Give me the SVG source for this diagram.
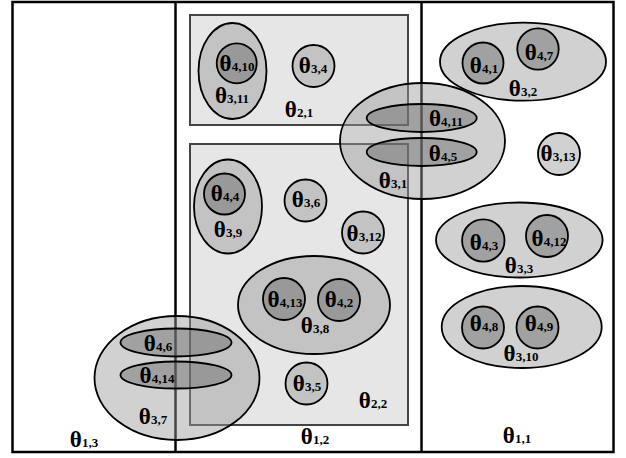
<svg xmlns="http://www.w3.org/2000/svg" width="626" height="458" viewBox="0 0 626 458">
<style>
.frame{fill:none;stroke:#000;stroke-width:2.5}
.div{stroke:#000;stroke-width:2.5}
.g2{fill:#e6e6e6;stroke:#444;stroke-width:2}
.g3{fill:#999;fill-opacity:0.45;stroke:#000;stroke-width:1.8}
.g4{fill:#666;fill-opacity:0.45;stroke:#000;stroke-width:1.8}
text{font-family:"Liberation Serif","Times New Roman",serif;font-weight:bold;font-size:23px;text-anchor:middle;fill:#000}
.s{font-size:13px}
</style>
<rect class="frame" x="12.5" y="2" width="601" height="450"/>
<g id="theta1_3"><text x="84" y="447">θ<tspan class="s">1,3</tspan></text></g>
<g id="theta1_2"><line class="div" x1="175.5" y1="2" x2="175.5" y2="452"/><text x="315" y="444">θ<tspan class="s">1,2</tspan></text></g>
<g id="theta1_1"><line class="div" x1="421.5" y1="2" x2="421.5" y2="452"/><text x="517" y="443">θ<tspan class="s">1,1</tspan></text></g>

<g id="theta2_1"><rect class="g2" x="190" y="15" width="218" height="110"/><text x="299" y="117">θ<tspan class="s">2,1</tspan></text></g>
<g id="theta2_2"><rect class="g2" x="190" y="144" width="218" height="281"/><text x="373" y="408">θ<tspan class="s">2,2</tspan></text></g>

<g id="theta3_11"><ellipse class="g3" cx="232.5" cy="71" rx="34" ry="48"/><text x="232" y="103">θ<tspan class="s">3,11</tspan></text></g>
<g id="theta4_10"><circle class="g4" cx="236.7" cy="63.3" r="20"/><text x="237" y="71">θ<tspan class="s">4,10</tspan></text></g>
<g id="theta3_4"><circle class="g3" cx="313.5" cy="66" r="21"/><text x="313" y="73">θ<tspan class="s">3,4</tspan></text></g>

<g id="theta3_9"><ellipse class="g3" cx="228" cy="206.5" rx="34" ry="47"/><text x="228" y="237">θ<tspan class="s">3,9</tspan></text></g>
<g id="theta4_4"><circle class="g4" cx="224.5" cy="194" r="20.5"/><text x="225" y="201">θ<tspan class="s">4,4</tspan></text></g>
<g id="theta3_6"><circle class="g3" cx="305.5" cy="200.5" r="21"/><text x="306" y="207">θ<tspan class="s">3,6</tspan></text></g>
<g id="theta3_12"><circle class="g3" cx="363" cy="232.5" r="21"/><text x="364" y="241">θ<tspan class="s">3,12</tspan></text></g>

<g id="theta3_8"><ellipse class="g3" cx="314" cy="305" rx="76" ry="49"/><text x="315" y="333">θ<tspan class="s">3,8</tspan></text></g>
<g id="theta4_13"><circle class="g4" cx="284" cy="299" r="21"/><text x="285" y="307">θ<tspan class="s">4,13</tspan></text></g>
<g id="theta4_2"><circle class="g4" cx="339" cy="300" r="21"/><text x="339" y="307">θ<tspan class="s">4,2</tspan></text></g>
<g id="theta3_5"><circle class="g3" cx="306.5" cy="383.5" r="21"/><text x="307" y="391">θ<tspan class="s">3,5</tspan></text></g>

<g id="theta3_1"><ellipse class="g3" cx="422.5" cy="141" rx="82.5" ry="58"/><text x="393" y="188">θ<tspan class="s">3,1</tspan></text></g>
<g id="theta4_11"><ellipse class="g4" cx="421.7" cy="118" rx="55" ry="14"/><text x="446" y="126">θ<tspan class="s">4,11</tspan></text></g>
<g id="theta4_5"><ellipse class="g4" cx="421.7" cy="152" rx="55" ry="14"/><text x="443" y="161">θ<tspan class="s">4,5</tspan></text></g>

<g id="theta3_7"><ellipse class="g3" cx="177" cy="378" rx="82.5" ry="62"/><text x="153" y="424">θ<tspan class="s">3,7</tspan></text></g>
<g id="theta4_6"><ellipse class="g4" cx="176" cy="342.5" rx="55.5" ry="14"/><text x="158" y="351">θ<tspan class="s">4,6</tspan></text></g>
<g id="theta4_14"><ellipse class="g4" cx="176" cy="375" rx="55.5" ry="13.5"/><text x="157" y="383">θ<tspan class="s">4,14</tspan></text></g>

<g id="theta3_2"><ellipse class="g3" cx="523" cy="61.7" rx="83" ry="39"/><text x="523" y="96">θ<tspan class="s">3,2</tspan></text></g>
<g id="theta4_1"><circle class="g4" cx="483" cy="63" r="20.5"/><text x="484" y="73">θ<tspan class="s">4,1</tspan></text></g>
<g id="theta4_7"><circle class="g4" cx="538" cy="49" r="20.7"/><text x="539" y="60">θ<tspan class="s">4,7</tspan></text></g>
<g id="theta3_13"><circle class="g3" cx="559" cy="154" r="21"/><text x="558" y="161">θ<tspan class="s">3,13</tspan></text></g>

<g id="theta3_3"><ellipse class="g3" cx="519.3" cy="240" rx="83.3" ry="37.5"/><text x="519" y="273">θ<tspan class="s">3,3</tspan></text></g>
<g id="theta4_3"><circle class="g4" cx="483.3" cy="240.5" r="21.2"/><text x="484" y="250">θ<tspan class="s">4,3</tspan></text></g>
<g id="theta4_12"><circle class="g4" cx="547" cy="236" r="21"/><text x="549" y="246">θ<tspan class="s">4,12</tspan></text></g>

<g id="theta3_10"><ellipse class="g3" cx="521.7" cy="327" rx="80" ry="41"/><text x="521" y="361">θ<tspan class="s">3,10</tspan></text></g>
<g id="theta4_8"><circle class="g4" cx="483" cy="327.5" r="21"/><text x="484" y="331">θ<tspan class="s">4,8</tspan></text></g>
<g id="theta4_9"><circle class="g4" cx="537.5" cy="327.5" r="21"/><text x="539" y="331">θ<tspan class="s">4,9</tspan></text></g>
</svg>
